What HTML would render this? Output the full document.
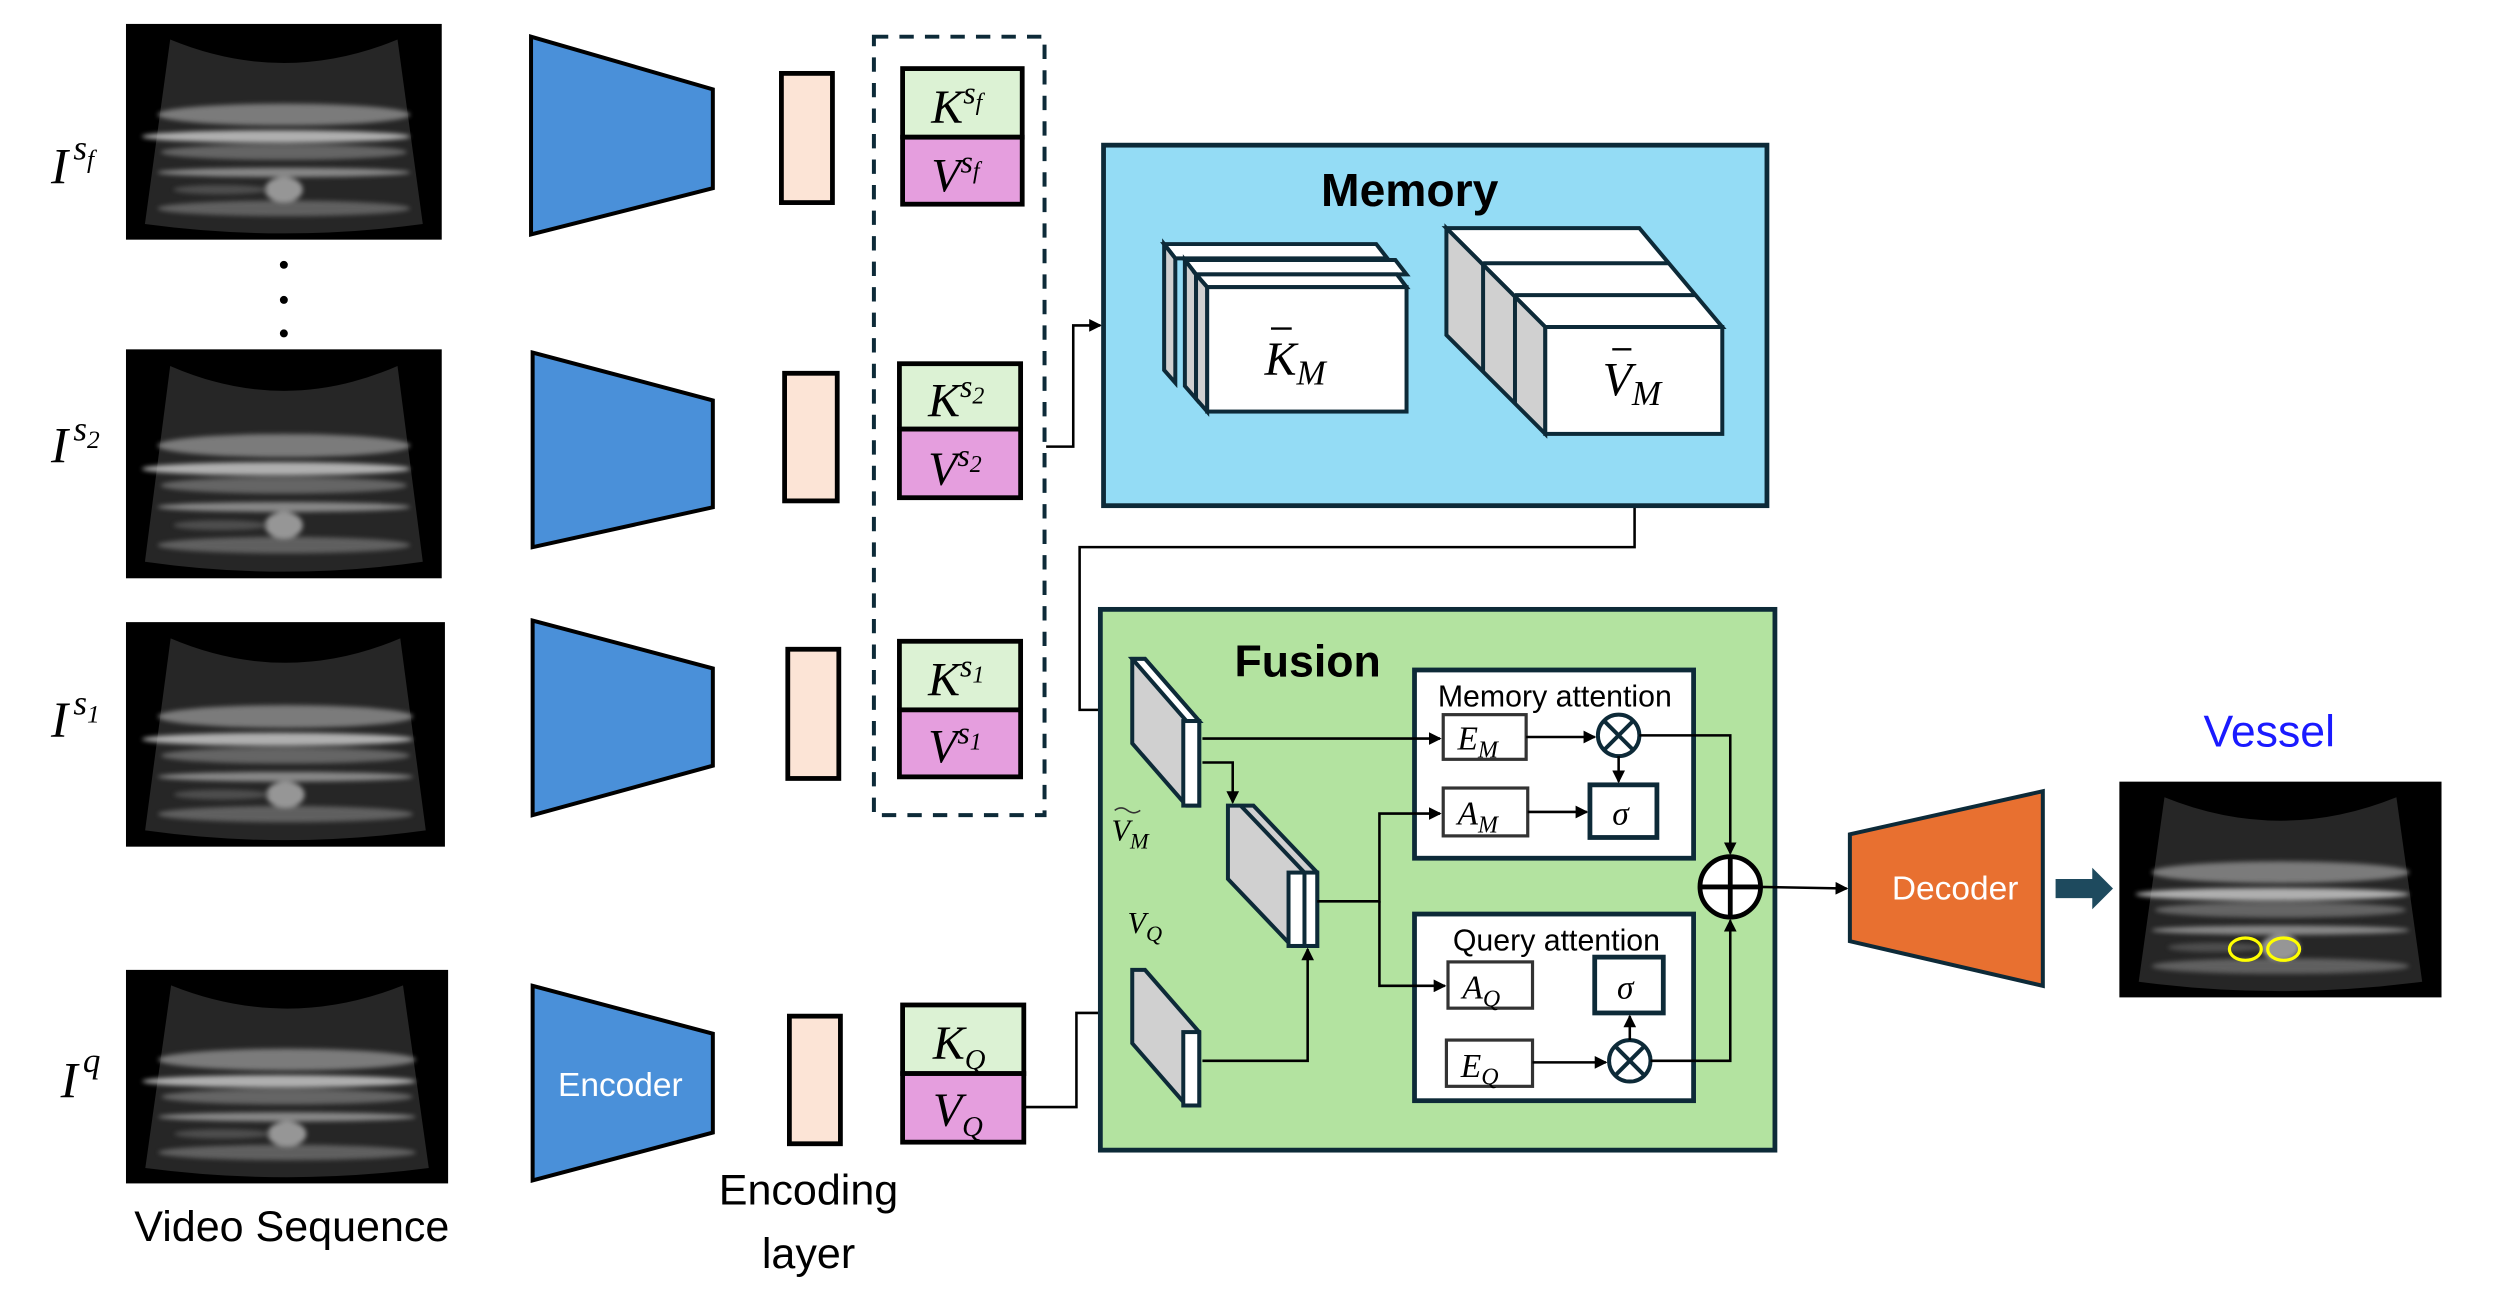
<!DOCTYPE html>
<html><head><meta charset="utf-8"><style>
html,body{margin:0;padding:0;background:#fff;width:2500px;height:1310px;overflow:hidden}
svg{display:block}
text{font-family:"Liberation Sans",sans-serif}
text.m,.m text,.m tspan{font-family:"Liberation Serif",serif;font-style:italic}
</style></head><body>
<svg width="2500" height="1310" viewBox="0 0 1552 813" preserveAspectRatio="none" xmlns="http://www.w3.org/2000/svg">
<defs>
<filter id="bl" x="-20%" y="-20%" width="140%" height="140%"><feGaussianBlur stdDeviation="1.5"/></filter>
<marker id="ar" markerWidth="8" markerHeight="8" refX="7" refY="4" orient="auto" markerUnits="userSpaceOnUse"><path d="M0,0 L8,4 L0,8 Z" fill="#000"/></marker>
<g id="us">
<rect x="0" y="0" width="200" height="138" fill="#000"/>
<path d="M28,10 Q100,40 172,10 L188,128 Q100,140 12,128 Z" fill="#262626"/>
<g filter="url(#bl)" opacity="0.85">
<ellipse cx="100" cy="58" rx="80" ry="7" fill="#8a8a8a"/>
<ellipse cx="95" cy="72" rx="85" ry="4" fill="#c8c8c8"/>
<ellipse cx="100" cy="82" rx="78" ry="5" fill="#707070"/>
<ellipse cx="100" cy="95" rx="80" ry="3" fill="#999"/>
<ellipse cx="100" cy="118" rx="80" ry="5" fill="#6a6a6a"/>
<ellipse cx="100" cy="106" rx="12" ry="8" fill="#aaa"/>
<ellipse cx="60" cy="106" rx="30" ry="3" fill="#555"/>
</g>
</g>
</defs>
<g transform="scale(0.99)">
<!-- ultrasound images -->
<use href="#us" transform="translate(79,15) scale(0.99,0.98)"/>
<use href="#us" transform="translate(79,219) scale(0.99,1.04)"/>
<use href="#us" transform="translate(79,390) scale(1,1.02)"/>
<use href="#us" transform="translate(79,608) scale(1.01,0.97)"/>
<use href="#us" transform="translate(1329,490) scale(1.01,0.98)"/>
<ellipse cx="1408" cy="595" rx="10" ry="7" fill="none" stroke="#ff0" stroke-width="2"/>
<ellipse cx="1432" cy="595" rx="10" ry="7" fill="none" stroke="#ff0" stroke-width="2"/>

<!-- image labels -->
<g class="m">
<text x="32" y="115" font-size="32">I</text><text x="46" y="100" font-size="22">s<tspan font-size="16" dy="5">f</tspan></text>
<text x="32" y="290" font-size="32">I</text><text x="46" y="276" font-size="22">s<tspan font-size="16" dy="5">2</tspan></text>
<text x="32" y="462" font-size="32">I</text><text x="46" y="448" font-size="22">s<tspan font-size="16" dy="5">1</tspan></text>
<text x="38" y="688" font-size="32">I</text><text x="52" y="672" font-size="22">q</text>
</g>
<circle cx="178" cy="166" r="2.5" fill="#000"/><circle cx="178" cy="188" r="2.5" fill="#000"/><circle cx="178" cy="209" r="2.5" fill="#000"/>
<text x="183" y="778" font-size="27" text-anchor="middle">Video Sequence</text>

<!-- encoders -->
<g fill="#4a90d9" stroke="#000" stroke-width="2.5">
<polygon points="333,23 447,56 447,118 333,147"/>
<polygon points="334,221 447,251 447,318 334,343"/>
<polygon points="334,389 447,419 447,480 334,511"/>
<polygon points="334,618 447,648 447,710 334,740"/>
</g>
<text x="389" y="687" font-size="21" fill="#fff" text-anchor="middle">Encoder</text>

<!-- encoding layers -->
<g fill="#fce4d6" stroke="#000" stroke-width="3">
<rect x="490" y="46" width="32" height="81"/>
<rect x="492" y="234" width="33" height="80"/>
<rect x="494" y="407" width="32" height="81"/>
<rect x="495" y="637" width="32" height="80"/>
</g>
<text x="507" y="755" font-size="27" text-anchor="middle">Encoding</text>
<text x="507" y="795" font-size="27" text-anchor="middle">layer</text>

<!-- dashed box -->
<rect x="548" y="23" width="107" height="488" fill="none" stroke="#0d2a38" stroke-width="2.5" stroke-dasharray="9,7"/>

<!-- K V boxes -->
<g stroke="#000" stroke-width="3">
<rect x="566" y="43" width="75" height="43" fill="#dcf2d4"/><rect x="566" y="86" width="75" height="42" fill="#e59ede"/>
<rect x="564" y="228" width="76" height="41" fill="#dcf2d4"/><rect x="564" y="269" width="76" height="43" fill="#e59ede"/>
<rect x="564" y="402" width="76" height="43" fill="#dcf2d4"/><rect x="564" y="445" width="76" height="42" fill="#e59ede"/>
<rect x="566" y="630" width="76" height="43" fill="#dcf2d4"/><rect x="566" y="673" width="76" height="43" fill="#e59ede"/>
</g>
<g class="m" font-size="30">
<text x="584" y="77">K<tspan font-size="20" dy="-12">s</tspan><tspan font-size="15" dy="4">f</tspan></text>
<text x="584" y="120">V<tspan font-size="20" dy="-12">s</tspan><tspan font-size="15" dy="4">f</tspan></text>
<text x="582" y="261">K<tspan font-size="20" dy="-12">s</tspan><tspan font-size="15" dy="4">2</tspan></text>
<text x="582" y="304">V<tspan font-size="20" dy="-12">s</tspan><tspan font-size="15" dy="4">2</tspan></text>
<text x="582" y="436">K<tspan font-size="20" dy="-12">s</tspan><tspan font-size="15" dy="4">1</tspan></text>
<text x="582" y="478">V<tspan font-size="20" dy="-12">s</tspan><tspan font-size="15" dy="4">1</tspan></text>
<text x="585" y="664">K<tspan font-size="18" dy="6">Q</tspan></text>
<text x="585" y="706">V<tspan font-size="18" dy="6">Q</tspan></text>
</g>

<!-- connectors outside -->
<g fill="none" stroke="#000" stroke-width="1.6">
<polyline points="656,280 673,280 673,204 690,204" marker-end="url(#ar)"/>
<polyline points="1025,272 1025,343 677,343 677,445 708,445" marker-end="url(#ar)"/>
<polyline points="643,694 675,694 675,635 708,635" marker-end="url(#ar)"/>
</g>

<!-- memory -->
<rect x="692" y="91" width="416" height="226" fill="#94dcf5" stroke="#0d2a38" stroke-width="3"/>
<text x="884" y="129" font-size="29" font-weight="bold" text-anchor="middle">Memory</text>
<g stroke="#0d2a38" stroke-width="2.5">
<polygon points="730,153 863,153 870,162 737,162" fill="#fff"/>
<polygon points="730,153 737,162 737,240 730,232" fill="#d0d0d0"/>
<polygon points="743,163 875,163 882,172 750,172" fill="#fff"/>
<polygon points="743,163 750,172 750,250 743,242" fill="#d0d0d0"/>
<polygon points="750,172 876,172 882,180 757,180" fill="#fff"/>
<polygon points="750,172 757,180 757,258 750,250" fill="#d0d0d0"/>
<rect x="757" y="180" width="125" height="78" fill="#fff"/>
<polygon points="907,143 1028,143 1080,205 969,205" fill="#fff"/>
<polygon points="907,143 969,205 969,272 907,210" fill="#d0d0d0"/>
<line x1="930" y1="165" x2="1046" y2="165"/>
<line x1="950" y1="185" x2="1063" y2="185"/>
<line x1="930" y1="165" x2="930" y2="233"/>
<line x1="950" y1="185" x2="950" y2="253"/>
<rect x="969" y="205" width="111" height="67" fill="#fff"/>
</g>
<text class="m" x="793" y="235" font-size="30">K<tspan font-size="22" dy="6">M</tspan></text>
<line x1="797" y1="206" x2="810" y2="206" stroke="#000" stroke-width="1.5"/>
<text class="m" x="1005" y="248" font-size="30">V<tspan font-size="22" dy="6">M</tspan></text>
<line x1="1011" y1="219" x2="1023" y2="219" stroke="#000" stroke-width="1.5"/>

<!-- fusion -->
<rect x="690" y="382" width="423" height="339" fill="#b3e3a0" stroke="#0d2a38" stroke-width="3"/>
<text x="820" y="424" font-size="28" font-weight="bold" text-anchor="middle">Fusion</text>
<g stroke="#0d2a38" stroke-width="2.5">
<polygon points="710,413 718,413 752,452 752,505 744,505 710,466" fill="#d0d0d0"/>
<polygon points="718,413 752,452 744,452 710,413" fill="#fff"/>
<rect x="742" y="452" width="10" height="53" fill="#fff"/>
<polygon points="710,608 718,608 752,647 752,693 744,693 710,654" fill="#d0d0d0"/>
<rect x="742" y="647" width="10" height="46" fill="#fff"/>
<polygon points="770,505 786,505 826,547 826,593 810,593 770,551" fill="#d0d0d0"/>
<rect x="808" y="547" width="10" height="46" fill="#fff"/>
<rect x="818" y="547" width="8" height="46" fill="#fff"/>
<line x1="778" y1="505" x2="818" y2="547"/>
</g>
<text class="m" x="697" y="527" font-size="19">V<tspan font-size="14" dy="5">M</tspan></text>
<path d="M699,508 q4,-3 8,0 t8,0" fill="none" stroke="#333" stroke-width="1"/>
<text class="m" x="707" y="585" font-size="19">V<tspan font-size="14" dy="5">Q</tspan></text>

<!-- attention boxes -->
<rect x="887" y="420" width="175" height="118" fill="#fff" stroke="#0d2a38" stroke-width="3"/>
<rect x="887" y="573" width="175" height="117" fill="#fff" stroke="#0d2a38" stroke-width="3"/>
<text x="975" y="443" font-size="19" text-anchor="middle">Memory attention</text>
<text x="976" y="596" font-size="19" text-anchor="middle">Query attention</text>
<g fill="#fff" stroke="#333" stroke-width="2">
<rect x="905" y="448" width="52" height="28"/>
<rect x="905" y="494" width="53" height="30"/>
<rect x="908" y="603" width="53" height="29"/>
<rect x="907" y="652" width="54" height="29"/>
</g>
<g fill="#fff" stroke="#0d2a38" stroke-width="3">
<rect x="997" y="492" width="42" height="33"/>
<rect x="1000" y="600" width="43" height="35"/>
</g>
<g class="m" font-size="21">
<text x="914" y="470">E<tspan font-size="15" dy="5">M</tspan></text>
<text x="914" y="517">A<tspan font-size="15" dy="5">M</tspan></text>
<text x="917" y="626">A<tspan font-size="15" dy="5">Q</tspan></text>
<text x="916" y="675">E<tspan font-size="15" dy="5">Q</tspan></text>
<text x="1011" y="517">σ</text>
<text x="1014" y="626">σ</text>
</g>
<g fill="#fff" stroke="#0d2a38" stroke-width="2.5">
<circle cx="1015" cy="461" r="13"/>
<circle cx="1022" cy="665" r="13"/>
</g>
<g stroke="#0d2a38" stroke-width="2.5">
<line x1="1006" y1="452" x2="1024" y2="470"/><line x1="1024" y1="452" x2="1006" y2="470"/>
<line x1="1013" y1="656" x2="1031" y2="674"/><line x1="1031" y1="656" x2="1013" y2="674"/>
</g>
<circle cx="1085" cy="556" r="19" fill="#fff" stroke="#000" stroke-width="3"/>
<line x1="1066" y1="556" x2="1104" y2="556" stroke="#000" stroke-width="3"/>
<line x1="1085" y1="537" x2="1085" y2="575" stroke="#000" stroke-width="3"/>

<!-- fusion connectors -->
<g fill="none" stroke="#000" stroke-width="1.6">
<polyline points="754,463 903,463" marker-end="url(#ar)"/>
<polyline points="754,478 773,478 773,503" marker-end="url(#ar)"/>
<polyline points="754,665 820,665 820,595" marker-end="url(#ar)"/>
<polyline points="826,565 865,565 865,510 903,510" marker-end="url(#ar)"/>
<polyline points="865,565 865,618 906,618" marker-end="url(#ar)"/>
<polyline points="957,462 1000,462" marker-end="url(#ar)"/>
<polyline points="958,509 995,509" marker-end="url(#ar)"/>
<polyline points="1015,474 1015,490" marker-end="url(#ar)"/>
<polyline points="961,666 1007,666" marker-end="url(#ar)"/>
<polyline points="1022,652 1022,637" marker-end="url(#ar)"/>
<polyline points="1028,461 1085,461 1085,535" marker-end="url(#ar)"/>
<polyline points="1035,665 1085,665 1085,577" marker-end="url(#ar)"/>
<polyline points="1104,556 1158,557" marker-end="url(#ar)"/>
</g>

<!-- decoder -->
<polygon points="1160,523 1281,496 1281,618 1160,590" fill="#e87030" stroke="#0d2a38" stroke-width="2.5"/>
<text x="1226" y="564" font-size="21" fill="#fff" text-anchor="middle">Decoder</text>
<polygon points="1289,551 1312,551 1312,544 1325,557 1312,570 1312,563 1289,563" fill="#1e4a5e"/>
<text x="1423" y="468" font-size="28" fill="#1a1aff" text-anchor="middle">Vessel</text>
</g>
</svg>
</body></html>
